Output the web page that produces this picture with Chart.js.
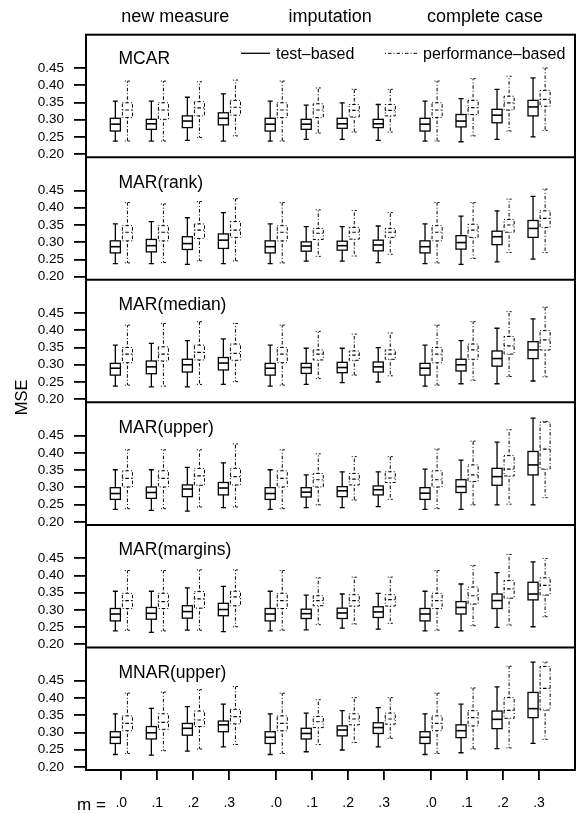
<!DOCTYPE html>
<html><head><meta charset="utf-8">
<script src="https://cdn.jsdelivr.net/npm/chart.js@4/dist/chart.umd.min.js"></script>
<style>html,body{margin:0;padding:0;background:#fff;}#wrap{position:relative;width:576px;height:814px;}</style>
</head><body><div id="wrap"><canvas id="c" width="576" height="814"></canvas></div>
<script>
// ---- data ----
const methods = ['new measure', 'imputation', 'complete case'];
const mLabels = ['.0', '.1', '.2', '.3'];
const groupPos = [1, 2, 3, 4, 5.3, 6.3, 7.3, 8.3, 9.6, 10.6, 11.6, 12.6];
const panelNames = ['MCAR', 'MAR(rank)', 'MAR(median)', 'MAR(upper)', 'MAR(margins)', 'MNAR(upper)'];
const seriesNames = ['test\u2013based', 'performance\u2013based'];
const yTicks = [0.20, 0.25, 0.30, 0.35, 0.40, 0.45];
// each entry: [lower whisker, Q1, median, Q3, upper whisker]
const MCAR_test = [[0.238,0.267,0.287,0.304,0.354],[0.238,0.272,0.288,0.301,0.354],[0.240,0.277,0.296,0.311,0.365],[0.238,0.285,0.304,0.320,0.375],[0.238,0.267,0.287,0.304,0.354],[0.243,0.272,0.287,0.301,0.342],[0.243,0.275,0.288,0.304,0.349],[0.240,0.277,0.288,0.301,0.344],[0.238,0.267,0.287,0.304,0.354],[0.236,0.279,0.296,0.315,0.361],[0.243,0.291,0.313,0.330,0.388],[0.250,0.311,0.337,0.356,0.421]];
const MCAR_perf = [[0.238,0.306,0.328,0.349,0.412],[0.238,0.301,0.328,0.349,0.412],[0.248,0.311,0.334,0.352,0.410],[0.253,0.313,0.336,0.356,0.415],[0.238,0.306,0.328,0.349,0.412],[0.261,0.306,0.328,0.346,0.392],[0.264,0.308,0.327,0.344,0.388],[0.264,0.311,0.327,0.344,0.388],[0.238,0.306,0.328,0.349,0.412],[0.253,0.315,0.335,0.356,0.419],[0.267,0.328,0.349,0.368,0.426],[0.269,0.339,0.359,0.385,0.450]];
const RANK_test = [[0.238,0.269,0.287,0.304,0.353],[0.238,0.272,0.290,0.308,0.360],[0.236,0.279,0.296,0.316,0.371],[0.238,0.282,0.306,0.324,0.386],[0.238,0.269,0.287,0.304,0.353],[0.245,0.274,0.289,0.301,0.345],[0.245,0.277,0.290,0.303,0.345],[0.241,0.275,0.292,0.306,0.347],[0.238,0.269,0.287,0.304,0.353],[0.236,0.280,0.299,0.319,0.376],[0.243,0.293,0.316,0.332,0.391],[0.251,0.314,0.340,0.363,0.433]];
const RANK_perf = [[0.240,0.304,0.329,0.348,0.415],[0.241,0.304,0.329,0.348,0.411],[0.246,0.311,0.335,0.353,0.418],[0.246,0.314,0.335,0.360,0.426],[0.240,0.304,0.329,0.348,0.415],[0.259,0.308,0.326,0.340,0.394],[0.260,0.309,0.329,0.343,0.392],[0.265,0.314,0.329,0.340,0.386],[0.240,0.304,0.329,0.348,0.415],[0.253,0.314,0.335,0.352,0.415],[0.270,0.329,0.350,0.366,0.425],[0.270,0.343,0.369,0.391,0.454]];
const MEDIAN_test = [[0.238,0.270,0.290,0.304,0.357],[0.236,0.274,0.294,0.311,0.362],[0.236,0.279,0.300,0.316,0.370],[0.243,0.285,0.305,0.321,0.375],[0.238,0.270,0.290,0.304,0.357],[0.243,0.275,0.292,0.304,0.348],[0.248,0.277,0.292,0.307,0.348],[0.250,0.279,0.294,0.308,0.350],[0.238,0.270,0.290,0.304,0.357],[0.245,0.282,0.300,0.316,0.370],[0.245,0.296,0.318,0.340,0.406],[0.253,0.318,0.343,0.367,0.433]];
const MEDIAN_perf = [[0.241,0.306,0.331,0.350,0.415],[0.238,0.311,0.331,0.352,0.420],[0.243,0.314,0.336,0.357,0.425],[0.251,0.313,0.333,0.360,0.420],[0.241,0.306,0.331,0.350,0.415],[0.260,0.314,0.331,0.343,0.397],[0.270,0.313,0.328,0.340,0.389],[0.268,0.316,0.331,0.343,0.392],[0.241,0.306,0.331,0.350,0.415],[0.255,0.316,0.343,0.360,0.425],[0.266,0.331,0.355,0.382,0.454],[0.265,0.343,0.372,0.399,0.467]];
const UPPER_test = [[0.236,0.265,0.282,0.299,0.351],[0.233,0.268,0.285,0.301,0.351],[0.231,0.273,0.295,0.307,0.358],[0.241,0.278,0.298,0.314,0.371],[0.236,0.265,0.282,0.299,0.351],[0.241,0.272,0.286,0.299,0.336],[0.241,0.273,0.290,0.302,0.345],[0.244,0.278,0.293,0.304,0.345],[0.236,0.265,0.283,0.299,0.353],[0.236,0.285,0.302,0.322,0.379],[0.249,0.306,0.331,0.355,0.431],[0.249,0.336,0.365,0.404,0.501]];
const UPPER_perf = [[0.238,0.301,0.326,0.348,0.409],[0.238,0.301,0.326,0.348,0.409],[0.243,0.306,0.333,0.355,0.409],[0.243,0.307,0.331,0.355,0.426],[0.238,0.301,0.326,0.348,0.409],[0.249,0.301,0.322,0.340,0.397],[0.263,0.307,0.324,0.340,0.389],[0.265,0.314,0.327,0.345,0.389],[0.238,0.301,0.322,0.348,0.411],[0.249,0.317,0.336,0.365,0.434],[0.251,0.333,0.353,0.392,0.467],[0.270,0.353,0.411,0.489,0.491]];
const MARGINS_test = [[0.239,0.268,0.288,0.304,0.354],[0.235,0.273,0.290,0.307,0.354],[0.241,0.276,0.295,0.312,0.364],[0.237,0.283,0.301,0.319,0.368],[0.239,0.268,0.288,0.304,0.354],[0.242,0.275,0.289,0.302,0.343],[0.247,0.275,0.291,0.305,0.346],[0.244,0.278,0.294,0.309,0.348],[0.239,0.268,0.288,0.304,0.354],[0.239,0.288,0.307,0.324,0.375],[0.249,0.304,0.327,0.346,0.408],[0.251,0.329,0.346,0.380,0.439]];
const MARGINS_perf = [[0.241,0.304,0.327,0.348,0.414],[0.239,0.304,0.324,0.348,0.414],[0.241,0.305,0.332,0.353,0.416],[0.251,0.312,0.338,0.354,0.416],[0.241,0.304,0.327,0.348,0.414],[0.257,0.312,0.327,0.341,0.393],[0.259,0.311,0.327,0.344,0.395],[0.261,0.311,0.330,0.344,0.395],[0.241,0.304,0.327,0.348,0.414],[0.254,0.317,0.341,0.366,0.429],[0.256,0.334,0.361,0.385,0.461],[0.280,0.343,0.371,0.393,0.449]];
const MNAR_test = [[0.236,0.268,0.286,0.302,0.354],[0.234,0.281,0.299,0.317,0.370],[0.246,0.292,0.312,0.326,0.375],[0.258,0.302,0.322,0.333,0.382],[0.236,0.268,0.286,0.302,0.354],[0.244,0.281,0.297,0.312,0.356],[0.249,0.290,0.307,0.319,0.363],[0.258,0.297,0.314,0.328,0.372],[0.236,0.268,0.286,0.302,0.354],[0.241,0.285,0.305,0.322,0.382],[0.253,0.311,0.338,0.362,0.432],[0.268,0.343,0.369,0.416,0.504]];
const MNAR_perf = [[0.239,0.305,0.326,0.348,0.414],[0.247,0.309,0.329,0.354,0.417],[0.252,0.317,0.336,0.362,0.424],[0.265,0.325,0.346,0.367,0.433],[0.239,0.305,0.326,0.348,0.414],[0.265,0.314,0.331,0.346,0.395],[0.271,0.322,0.339,0.354,0.401],[0.283,0.324,0.339,0.356,0.401],[0.239,0.305,0.326,0.348,0.414],[0.252,0.319,0.343,0.363,0.429],[0.255,0.341,0.364,0.401,0.492],[0.280,0.365,0.428,0.491,0.504]];

const panelData = [
  [MCAR_test, MCAR_perf], [RANK_test, RANK_perf], [MEDIAN_test, MEDIAN_perf],
  [UPPER_test, UPPER_perf], [MARGINS_test, MARGINS_perf], [MNAR_test, MNAR_perf]
];

// ---- style ----
const FONT = '"Liberation Sans", Arial, Helvetica, sans-serif';
const seriesOffset = [-0.165, 0.17];
const boxW = 0.28, capW = 0.14;
const DASH = [1, 2, 3.5, 2];
const Y_MIN = 0.191, Y_MAX = 0.5465;

const datasets = [];
panelData.forEach((pair, p) => {
  pair.forEach((ser, s) => {
    datasets.push({
      label: panelNames[p] + ' ' + seriesNames[s],
      type: 'scatter', yAxisID: 'y' + p, xAxisID: 'x',
      data: ser.map((d, g) => ({ x: groupPos[g] + seriesOffset[s], y: d[2] })),
      pointRadius: 0, showLine: false, _panel: p, _series: s
    });
  });
});

const scales = {
  x: {
    type: 'linear', position: 'bottom', min: 0.02, max: 13.6,
    afterBuildTicks: sc => { sc.ticks = groupPos.map(v => ({ value: v })); },
    ticks: { callback: (v, i) => mLabels[i % 4], font: { family: FONT, size: 14 }, color: '#000', padding: 15, autoSkip: false, maxRotation: 0 },
    grid: { drawOnChartArea: false, drawTicks: true, tickLength: 10, tickColor: '#000', tickWidth: 1.8, lineWidth: 1.8 },
    border: { display: false },
    afterFit: sc => { sc.height = 44; }
  }
};
panelNames.forEach((n, p) => {
  scales['y' + p] = {
    type: 'linear', position: 'left', stack: 'panels', stackWeight: 1, weight: 6 - p,
    min: Y_MIN, max: Y_MAX,
    afterBuildTicks: sc => { sc.ticks = yTicks.map(v => ({ value: v })); },
    ticks: { callback: v => v.toFixed(2), font: { family: FONT, size: 13.5 }, color: '#000', padding: 10, autoSkip: false },
    grid: { drawOnChartArea: false, drawTicks: true, tickLength: 12, tickColor: '#000', tickWidth: 1.8, lineWidth: 1.8 },
    border: { display: false },
    afterFit: sc => { sc.width = 86; }
  };
});

function drawBox(ctx, xs, ys, xc, d, dashed) {
  const px = v => xs.getPixelForValue(v);
  const py = v => ys.getPixelForValue(v);
  const xl = px(xc - boxW / 2), xr = px(xc + boxW / 2);
  const cl = px(xc - capW / 2), cr = px(xc + capW / 2);
  const xm = px(xc);
  const [lo, q1, med, q3, hi] = d.map(py);
  ctx.save();
  ctx.strokeStyle = '#000';
  ctx.lineWidth = dashed ? 1 : 1.3;
  ctx.setLineDash(dashed ? DASH : []);
  ctx.beginPath();
  ctx.moveTo(xm, q3); ctx.lineTo(xm, hi);
  ctx.moveTo(xm, q1); ctx.lineTo(xm, lo);
  ctx.stroke();
  ctx.beginPath();
  ctx.moveTo(cl, hi); ctx.lineTo(cr, hi);
  ctx.moveTo(cl, lo); ctx.lineTo(cr, lo);
  ctx.stroke();
  ctx.fillStyle = '#fff';
  ctx.fillRect(xl, q3, xr - xl, q1 - q3);
  ctx.strokeRect(xl, q3, xr - xl, q1 - q3);
  ctx.lineWidth = dashed ? 1.2 : 1.6;
  ctx.beginPath();
  ctx.moveTo(xl, med); ctx.lineTo(xr, med);
  ctx.stroke();
  ctx.restore();
}

const boxPlugin = {
  id: 'boxplots',
  afterDatasetsDraw(chart) {
    const ctx = chart.ctx, xs = chart.scales.x;
    chart.data.datasets.forEach(ds => {
      const ys = chart.scales['y' + ds._panel];
      panelData[ds._panel][ds._series].forEach((d, g) => {
        drawBox(ctx, xs, ys, groupPos[g] + seriesOffset[ds._series], d, ds._series === 1);
      });
    });
  },
  afterDraw(chart) {
    const ctx = chart.ctx, xs = chart.scales.x, a = chart.chartArea;
    ctx.save();
    ctx.strokeStyle = '#000';
    ctx.lineWidth = 2;
    ctx.setLineDash([]);
    ctx.strokeRect(a.left, a.top, a.right - a.left, a.bottom - a.top);
    for (let p = 0; p < panelNames.length - 1; p++) {
      const b = chart.scales['y' + p].bottom;
      ctx.beginPath(); ctx.moveTo(a.left, b); ctx.lineTo(a.right, b); ctx.stroke();
    }
    ctx.fillStyle = '#000';
    ctx.font = '17.5px ' + FONT;
    ctx.textAlign = 'left'; ctx.textBaseline = 'alphabetic';
    panelNames.forEach((n, p) => {
      const t = chart.scales['y' + p].top;
      ctx.fillText(n, 118.5, t + (p === 0 ? 28.8 : 30.3));
    });
    ctx.font = '18px ' + FONT;
    ctx.textAlign = 'center';
    methods.forEach((m, i) => {
      const c = (groupPos[i * 4] + groupPos[i * 4 + 3]) / 2;
      ctx.fillText(m, xs.getPixelForValue(c), 21.5);
    });
    const ly = chart.scales.y0.top;
    ctx.font = '16px ' + FONT;
    ctx.textAlign = 'left';
    ctx.lineWidth = 1.3;
    ctx.beginPath(); ctx.moveTo(241, ly + 18.6); ctx.lineTo(270, ly + 18.6); ctx.stroke();
    ctx.fillText(seriesNames[0], 276, ly + 24);
    ctx.lineWidth = 1;
    ctx.setLineDash(DASH);
    ctx.beginPath(); ctx.moveTo(385, ly + 18.6); ctx.lineTo(418, ly + 18.6); ctx.stroke();
    ctx.setLineDash([]);
    ctx.fillText(seriesNames[1], 423, ly + 24);
    ctx.save();
    ctx.font = '16.5px ' + FONT;
    ctx.translate(27, (a.top + a.bottom) / 2 - 5);
    ctx.rotate(-Math.PI / 2);
    ctx.textAlign = 'center';
    ctx.fillText('MSE', 0, 0);
    ctx.restore();
    ctx.font = '17px ' + FONT;
    ctx.textAlign = 'left';
    ctx.fillText('m =', 77, 810);
    ctx.restore();
  }
};

new Chart(document.getElementById('c'), {
  type: 'scatter',
  data: { datasets },
  options: {
    responsive: false, animation: false, devicePixelRatio: 1,
    layout: { padding: { top: 34.7, right: 1, bottom: 0, left: 0 } },
    plugins: { legend: { display: false }, tooltip: { enabled: false }, title: { display: false } },
    events: [],
    scales
  },
  plugins: [boxPlugin]
});
</script></body></html>
